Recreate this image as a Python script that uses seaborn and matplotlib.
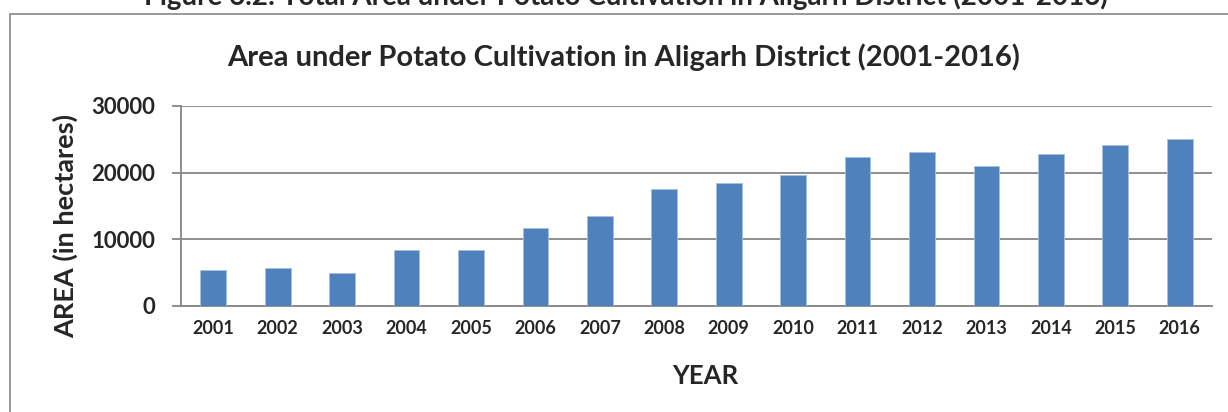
import pandas as pd
import matplotlib
matplotlib.use("Agg")
import matplotlib.pyplot as plt
import matplotlib.patches as patches
import seaborn as sns

# data
years = ["2001", "2002", "2003", "2004", "2005", "2006", "2007", "2008",
         "2009", "2010", "2011", "2012", "2013", "2014", "2015", "2016"]
area = [5350, 5650, 4950, 8350, 8400, 11650, 13450, 17600,
        18450, 19600, 22400, 23050, 20950, 22800, 24100, 25000]
y_ticks = [0, 10000, 20000, 30000]

BAR_COLOR = "#4F81BD"
GRID_COLOR = "#868686"

sns.set_style("white")
plt.rcParams["font.family"] = ["Lato", "DejaVu Sans"]

df = pd.DataFrame({"Year": years, "Area": area})

fig = plt.figure(figsize=(12.28, 4.12), dpi=100)
ax = fig.add_axes([181 / 1228, 1 - 306 / 412, 1031 / 1228, 200 / 412])

sns.barplot(data=df, x="Year", y="Area", color=BAR_COLOR, saturation=1,
            width=0.4, edgecolor="#A7BFDE", linewidth=0.6, ax=ax, zorder=3)

ax.set_ylim(0, 30000)
ax.set_xlim(-0.5, len(years) - 0.5)
ax.set_yticks(y_ticks)
ax.set_yticklabels([str(v) for v in y_ticks], fontsize=16, fontweight="bold")
ax.set_xticks(range(len(years)))
ax.set_xticklabels(years, fontsize=13, fontweight="bold")
ax.yaxis.grid(True, color=GRID_COLOR, linewidth=1.3, zorder=0)
ax.tick_params(axis="y", length=6.5, width=1.3, color=GRID_COLOR, pad=12, direction="out", left=True)
ax.tick_params(axis="x", length=0, pad=10)

for side in ["top", "right"]:
    ax.spines[side].set_visible(False)
ax.spines["left"].set_color(GRID_COLOR)
ax.spines["left"].set_linewidth(1.3)
ax.spines["bottom"].set_color(GRID_COLOR)
ax.spines["bottom"].set_linewidth(1.3)

ax.set_xlabel("YEAR", fontsize=18.5, fontweight="bold")
ax.xaxis.set_label_coords((705 - 181) / 1031, -(364 - 306) / 200)
ax.set_ylabel("AREA (in hectares)", fontsize=19.5, fontweight="bold")
ax.yaxis.set_label_coords(-103 / 1031, 0.4)

# chart title inside the box
fig.text(624 / 1228, 1 - 57 / 412, "Area under Potato Cultivation in Aligarh District (2001-2016)",
         ha="center", va="center", fontsize=21, fontweight="bold")

# figure caption, cut off at the top of the image
fig.text(626 / 1228, 1 - 5 / 412,
         "Figure 6.2: Total Area under Potato Cultivation in Aligarh District (2001-2016)",
         ha="center", va="baseline", fontsize=20, fontweight="bold")

# chart box border
box = patches.Rectangle((10 / 1228, -0.1), 1.2, 1 - 14 / 412 + 0.1,
                        transform=fig.transFigure, fill=False,
                        edgecolor="#878787", linewidth=1.2)
fig.patches.append(box)

fig.savefig("out.png", dpi=100)
